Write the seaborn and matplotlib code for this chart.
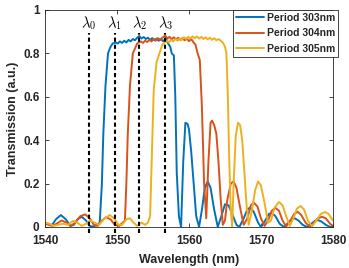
import numpy as np
import pandas as pd
import matplotlib
matplotlib.use("Agg")
import matplotlib.pyplot as plt
import seaborn as sns

# --- data (wavelength nm, transmission a.u.) ---
wl_303 = [1540.0, 1540.5, 1541.0, 1541.5, 1542.2, 1542.9, 1543.5, 1544.0, 1544.5, 1545.1,
          1545.7, 1546.2, 1546.7, 1547.2, 1547.6, 1547.9, 1548.1, 1548.4, 1548.75, 1549.1,
          1549.4, 1549.8, 1550.1, 1550.4, 1550.7, 1551.0, 1551.3, 1551.6, 1551.9, 1552.2,
          1552.5, 1552.8, 1553.1, 1553.4, 1553.7, 1554.0, 1554.3, 1554.6, 1554.9, 1555.2,
          1555.5, 1555.8, 1556.1, 1556.4, 1556.8, 1557.1, 1557.4, 1557.6, 1557.9, 1558.1,
          1558.3, 1558.6, 1558.9, 1559.2, 1559.5, 1559.8, 1560.0, 1560.3, 1560.7, 1561.0,
          1561.4, 1561.8, 1562.2, 1562.6, 1563.0, 1563.5, 1564.0, 1564.5, 1565.0, 1565.5,
          1566.0, 1566.6, 1567.0, 1567.6, 1568.1, 1568.5, 1569.0, 1569.6, 1570.0, 1570.6,
          1571.1, 1571.5, 1572.0, 1572.6, 1573.2, 1573.8, 1574.3, 1574.7, 1575.2, 1575.8,
          1576.4, 1577.0, 1577.5, 1577.9, 1578.4, 1579.0, 1579.6, 1580.0]
t_303 = [0.020, 0.012, 0.010, 0.035, 0.055, 0.035, 0.005, 0.010, 0.035, 0.047,
         0.030, 0.005, 0.002, 0.010, 0.020, 0.200, 0.430, 0.650, 0.800, 0.830,
         0.845, 0.850, 0.845, 0.855, 0.848, 0.858, 0.850, 0.862, 0.855, 0.866,
         0.860, 0.872, 0.880, 0.868, 0.875, 0.866, 0.872, 0.862, 0.870, 0.860,
         0.868, 0.858, 0.866, 0.856, 0.868, 0.845, 0.830, 0.800, 0.790, 0.600,
         0.250, 0.050, 0.000, 0.300, 0.480, 0.475, 0.450, 0.350, 0.180, 0.050,
         0.000, 0.080, 0.180, 0.210, 0.180, 0.080, 0.000, 0.050, 0.105, 0.100,
         0.060, 0.010, 0.000, 0.040, 0.080, 0.090, 0.070, 0.020, 0.000, 0.030,
         0.060, 0.065, 0.050, 0.015, 0.000, 0.020, 0.037, 0.040, 0.030, 0.010,
         0.000, 0.015, 0.028, 0.032, 0.025, 0.010, 0.000, 0.005]

wl_304 = [1540.0, 1540.5, 1541.0, 1541.6, 1542.3, 1543.0, 1543.6, 1544.2, 1544.9, 1545.6,
          1546.2, 1546.8, 1547.3, 1547.9, 1548.5, 1549.1, 1549.7, 1550.3, 1550.8, 1551.1,
          1551.3, 1551.5, 1551.8, 1552.2, 1552.8, 1553.0, 1553.3, 1553.6, 1553.9, 1554.2,
          1554.5, 1554.8, 1555.1, 1555.4, 1555.7, 1556.0, 1556.3, 1556.7, 1557.0, 1557.3,
          1557.6, 1557.9, 1558.2, 1558.5, 1558.8, 1559.1, 1559.4, 1559.7, 1560.0, 1560.3,
          1560.6, 1560.9, 1561.2, 1561.5, 1561.8, 1562.1, 1562.4, 1562.7, 1563.0, 1563.2,
          1563.5, 1563.8, 1564.1, 1564.4, 1564.7, 1565.0, 1565.3, 1565.8, 1566.2, 1566.6,
          1567.1, 1567.6, 1568.1, 1568.6, 1569.0, 1569.5, 1570.0, 1570.5, 1571.0, 1571.5,
          1572.0, 1572.5, 1573.0, 1573.5, 1574.1, 1574.6, 1575.1, 1575.6, 1576.2, 1576.8,
          1577.4, 1577.9, 1578.5, 1579.0, 1579.6, 1580.0]
t_304 = [0.015, 0.010, 0.005, 0.015, 0.030, 0.020, 0.005, 0.020, 0.050, 0.058,
         0.040, 0.010, 0.005, 0.030, 0.045, 0.035, 0.010, 0.005, 0.020, 0.030,
         0.200, 0.430, 0.650, 0.800, 0.845, 0.850, 0.855, 0.848, 0.858, 0.852,
         0.862, 0.855, 0.866, 0.858, 0.870, 0.862, 0.872, 0.882, 0.868, 0.876,
         0.865, 0.874, 0.864, 0.872, 0.862, 0.870, 0.860, 0.868, 0.856, 0.866,
         0.852, 0.840, 0.800, 0.770, 0.550, 0.200, 0.040, 0.300, 0.480, 0.490,
         0.470, 0.430, 0.300, 0.130, 0.010, 0.030, 0.120, 0.200, 0.210, 0.180,
         0.090, 0.010, 0.040, 0.100, 0.112, 0.095, 0.040, 0.005, 0.030, 0.075,
         0.088, 0.075, 0.030, 0.002, 0.030, 0.060, 0.070, 0.055, 0.020, 0.000,
         0.020, 0.040, 0.047, 0.040, 0.015, 0.005]

wl_305 = [1540.0, 1540.6, 1541.2, 1541.8, 1542.5, 1543.2, 1543.9, 1544.5, 1545.1, 1545.7,
          1546.3, 1546.9, 1547.5, 1548.3, 1549.0, 1549.6, 1550.2, 1550.7, 1551.3, 1551.8,
          1552.3, 1552.8, 1553.4, 1553.9, 1554.3, 1554.6, 1555.1, 1555.5, 1556.0, 1556.3,
          1556.6, 1556.9, 1557.2, 1557.5, 1557.8, 1558.1, 1558.4, 1558.7, 1559.0, 1559.3,
          1559.6, 1559.9, 1560.2, 1560.5, 1560.8, 1561.1, 1561.4, 1561.7, 1562.0, 1562.3,
          1562.6, 1562.9, 1563.2, 1563.5, 1563.8, 1564.1, 1564.4, 1564.7, 1565.0, 1565.2,
          1565.4, 1565.6, 1565.8, 1566.0, 1566.2, 1566.5, 1566.8, 1567.1, 1567.4, 1567.7,
          1568.0, 1568.3, 1568.7, 1569.2, 1569.6, 1570.0, 1570.5, 1571.0, 1571.4, 1571.9,
          1572.5, 1573.0, 1573.5, 1574.0, 1574.5, 1575.0, 1575.5, 1576.0, 1576.5, 1577.1,
          1577.7, 1578.3, 1578.9, 1579.4, 1580.0]
t_305 = [0.020, 0.015, 0.005, 0.010, 0.015, 0.010, 0.028, 0.020, 0.005, 0.015,
         0.030, 0.020, 0.010, 0.040, 0.055, 0.040, 0.010, 0.010, 0.035, 0.040,
         0.020, 0.005, 0.020, 0.010, 0.020, 0.050, 0.630, 0.760, 0.810, 0.840,
         0.850, 0.858, 0.850, 0.862, 0.855, 0.866, 0.858, 0.870, 0.862, 0.874,
         0.866, 0.876, 0.868, 0.878, 0.870, 0.878, 0.868, 0.876, 0.866, 0.874,
         0.864, 0.872, 0.862, 0.870, 0.860, 0.866, 0.858, 0.850, 0.830, 0.800,
         0.600, 0.300, 0.080, 0.000, 0.200, 0.420, 0.480, 0.470, 0.400, 0.250,
         0.100, 0.010, 0.070, 0.170, 0.210, 0.190, 0.110, 0.020, 0.030, 0.090,
         0.115, 0.100, 0.050, 0.005, 0.040, 0.085, 0.097, 0.080, 0.030, 0.003,
         0.030, 0.060, 0.069, 0.060, 0.030]

series_names = ["Period 303nm", "Period 304nm", "Period 305nm"]
series_colors = ["#0072BD", "#D95319", "#EDB120"]

marker_wl = [1546.1, 1549.7, 1553.1, 1556.7]
marker_labels = [r"$\lambda_0$", r"$\lambda_1$", r"$\lambda_2$", r"$\lambda_3$"]

df = pd.concat([
    pd.DataFrame({"wl": wl_303, "T": t_303, "Period": series_names[0]}),
    pd.DataFrame({"wl": wl_304, "T": t_304, "Period": series_names[1]}),
    pd.DataFrame({"wl": wl_305, "T": t_305, "Period": series_names[2]}),
], ignore_index=True)

sns.set_theme(style="ticks")
plt.rcParams["font.family"] = ["Liberation Sans", "DejaVu Sans"]
plt.rcParams["mathtext.fontset"] = "cm"

fig = plt.figure(figsize=(3.49, 2.68), dpi=100, facecolor="white")
ax = fig.add_axes([0.129, 0.153, 0.825, 0.810])

sns.lineplot(data=df, x="wl", y="T", hue="Period", palette=series_colors,
             linewidth=1.4, estimator=None, sort=False, ax=ax)

for w, lab in zip(marker_wl, marker_labels):
    ax.plot([w, w], [-0.028, 0.895], color="black", lw=1.5,
            linestyle=(0, (2.0, 1.4)), clip_on=False, zorder=5)
    ax.text(w, 0.94, lab, ha="center", va="center", fontsize=10.5, color="black")

ax.set_xlim(1540, 1580)
ax.set_ylim(0, 1)
ax.set_xticks([1540, 1550, 1560, 1570, 1580])
ax.set_yticks([0, 0.2, 0.4, 0.6, 0.8, 1])
ax.set_yticklabels(["0", "0.2", "0.4", "0.6", "0.8", "1"])
ax.tick_params(direction="in", top=True, right=True, length=3, width=0.6,
               colors="#262626", labelsize=8.5)
ax.tick_params(axis="x", pad=6)
ax.tick_params(axis="y", pad=4)
for lbl in ax.get_xticklabels() + ax.get_yticklabels():
    lbl.set_fontweight("bold")
for sp in ax.spines.values():
    sp.set_visible(True)
    sp.set_color("#262626")
    sp.set_linewidth(0.6)

ax.set_xlabel("Wavelength (nm)", fontsize=9, fontweight="bold", labelpad=5)
ax.set_ylabel("Transmission (a.u.)", fontsize=9, fontweight="bold", labelpad=3)

handles, labels = ax.get_legend_handles_labels()
leg = ax.legend(handles, labels, loc="upper right",
                bbox_to_anchor=(338 / 349, 1 - 10 / 268), bbox_transform=fig.transFigure,
                borderaxespad=0, fancybox=False, framealpha=1, edgecolor="#262626",
                prop={"weight": "bold", "size": 7.5}, handlelength=2.6,
                handletextpad=0.3, labelspacing=0.5, borderpad=0.3)
leg.get_frame().set_linewidth(0.6)

fig.savefig("out.png", dpi=100)
